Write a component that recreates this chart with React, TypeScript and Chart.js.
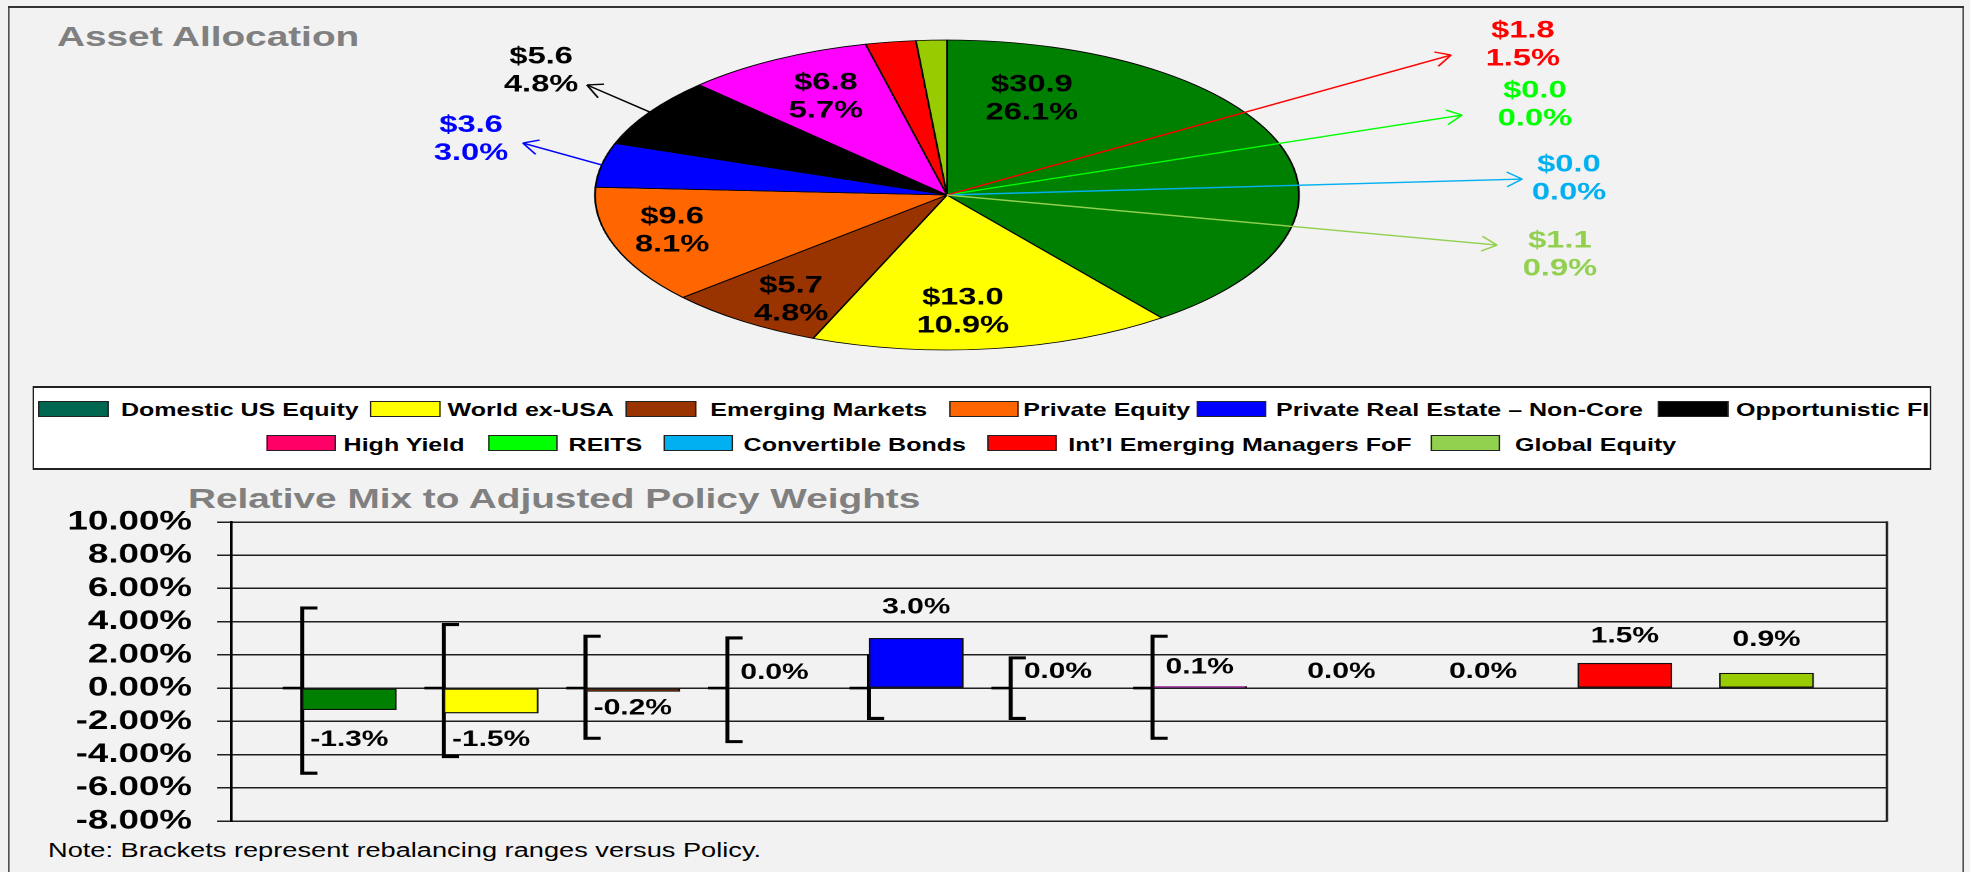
import React, { useEffect, useRef } from "react";
import { Chart, registerables } from "chart.js";

Chart.register(...registerables);

// ---------------- data ----------------
const CATEGORIES = [
  "Domestic US Equity",
  "World ex-USA",
  "Emerging Markets",
  "Private Equity",
  "Private Real Estate – Non-Core",
  "Opportunistic FI",
  "High Yield",
  "REITS",
  "Convertible Bonds",
  "Int’l Emerging Managers FoF",
  "Global Equity",
];
const ALLOC_DOLLARS = [30.9, 13.0, 5.7, 9.6, 3.6, 5.6, 6.8, 0.0, 0.0, 1.8, 1.1];
const ALLOC_PCT = [26.1, 10.9, 4.8, 8.1, 3.0, 4.8, 5.7, 0.0, 0.0, 1.5, 0.9];
const RELATIVE_MIX = [-1.3, -1.5, -0.2, 0.0, 3.0, 0.0, 0.1, 0.0, 0.0, 1.5, 0.9];
const RANGE_HIGH: (number | null)[] = [4.9, 3.9, 3.2, 3.1, 2.0, 1.9, 3.2, null, null, null, null];
const RANGE_LOW: (number | null)[] = [-5.2, -4.2, -3.1, -3.3, -1.9, -1.9, -3.1, null, null, null, null];
const POLICY: (number | null)[] = [0, 0, 0, 0, 0, 0, 0, null, null, null, null];
const Y_MIN = -8;
const Y_MAX = 10;
const Y_STEP = 2;

// ---------------- styles / layout ----------------
const K = 1.36; // horizontal stretch of the whole picture
const U = (x: number) => x / K;
const W_U = 1449;
const FONT = '"Liberation Sans", Arial, Helvetica, sans-serif';
Chart.defaults.font.family = FONT;

const PIE_COLORS = ["#008000", "#FFFF00", "#993300", "#FF6600", "#0000FF", "#000000", "#FF00FF", "#00FF00", "#00B0F0", "#FF0000", "#99CC00"];
const LEGEND_COLORS = ["#006650", "#FFFF00", "#993300", "#FF6600", "#0000FF", "#000000", "#FF0066", "#00FF00", "#00B0F0", "#FF0000", "#92D050"];
const BAR_COLORS = ["#008000", "#FFFF00", "#993300", "#FF6600", "#0000FF", "#000000", "#FF00FF", "#00FF00", "#00B0F0", "#FF0000", "#99CC00"];
const PIE_LABEL_COLORS = ["#000", "#000", "#000", "#000", "#0000FF", "#000", "#000", "#00FF00", "#00B0F0", "#FF0000", "#92D050"];

// label anchor positions, in units of the ellipse semi-axes from the pie centre
const PIE_LABEL_AT: [number, number][] = [
  [0.241, -0.619], [0.045, 0.755], [-0.443, 0.677], [-0.781, 0.232], [-1.352, -0.358],
  [-1.153, -0.8], [-0.344, -0.632], [1.67, -0.581], [1.767, -0.103], [1.636, -0.968], [1.741, 0.387],
];
type Arrow = { from: "rim" | "center"; tip: [number, number] } | null;
const PIE_ARROWS: Arrow[] = [
  null, null, null, null,
  { from: "rim", tip: [-1.205, -0.335] },
  { from: "rim", tip: [-1.023, -0.71] },
  null,
  { from: "center", tip: [1.463, -0.516] },
  { from: "center", tip: [1.634, -0.103] },
  { from: "center", tip: [1.432, -0.903] },
  { from: "center", tip: [1.5625, 0.323] },
];
const PIE_RADIUS = 155;
const PIE_STRETCH = U(352) / PIE_RADIUS;
const PIE_H = 390;
const PIE_PAD_RIGHT = W_U - 2 * U(947);

// bar chart layout
const BAR_CANVAS_TOP = 470;
const BAR_CANVAS_W = 1397;
const BAR_CANVAS_H = 391;
const PLOT_TOP = 522;
const PLOT_BOTTOM = 821;
const X_MAX = 1665 / 142.5;
const BAR_SHIFT = 0.835;
const BRACKET_SHIFT = 0.55;
const POLICY_SHIFT = 0.432;
const BAR_LABEL_DY = [30, 27, 17, -15, -31, -16, -19, -16, -16, -27, -33];

// legend layout: [swatch x, text x, row] in picture pixels
const LEGEND_LAYOUT: [number, number, number][] = [
  [39.3, 121.7, 0], [371, 448.3, 0], [626.7, 711, 0], [950, 1024, 0], [1197, 1276.7, 0], [1659, 1736.7, 0],
  [266.7, 344.3, 1], [488.3, 569.3, 1], [664.3, 744.3, 1], [987.7, 1069, 1], [1431, 1515.7, 1],
];

function drawArrow(ctx: CanvasRenderingContext2D, sx: number, sy: number, tx: number, ty: number, color: string) {
  ctx.strokeStyle = color;
  ctx.lineWidth = 1.4;
  ctx.beginPath();
  ctx.moveTo(sx, sy);
  ctx.lineTo(tx, ty);
  ctx.stroke();
  const dx = (sx - tx) * K;
  const dy = sy - ty;
  const len = Math.hypot(dx, dy) || 1;
  const ux = dx / len;
  const uy = dy / len;
  const L = 17;
  const ang = 0.45;
  for (const s of [1, -1]) {
    const rx = ux * Math.cos(s * ang) - uy * Math.sin(s * ang);
    const ry = ux * Math.sin(s * ang) + uy * Math.cos(s * ang);
    ctx.beginPath();
    ctx.moveTo(tx, ty);
    ctx.lineTo(tx + (rx * L) / K, ty + ry * L);
    ctx.stroke();
  }
}

const ellipsePlugin = {
  id: "ellipse",
  beforeDatasetsDraw(chart: any) {
    const el = chart.getDatasetMeta(0).data[0];
    const ctx = chart.ctx;
    ctx.save();
    ctx.translate(el.x, el.y);
    ctx.scale(PIE_STRETCH, 1);
    ctx.translate(-el.x, -el.y);
  },
  afterDatasetsDraw(chart: any) {
    chart.ctx.restore();
  },
};

const pieLabelPlugin = {
  id: "pieLabels",
  afterDraw(chart: any) {
    const ctx: CanvasRenderingContext2D = chart.ctx;
    const arcs = chart.getDatasetMeta(0).data;
    const c = arcs[0];
    const cx = c.x;
    const cy = c.y;
    const b = c.outerRadius;
    const a = b * PIE_STRETCH;
    ctx.save();
    arcs.forEach((arc: any, i: number) => {
      const color = PIE_LABEL_COLORS[i];
      const arrow = PIE_ARROWS[i];
      if (arrow) {
        let sx = cx;
        let sy = cy;
        if (arrow.from === "rim") {
          const m = (arc.startAngle + arc.endAngle) / 2;
          sx = cx + a * Math.cos(m);
          sy = cy + b * Math.sin(m);
        }
        drawArrow(ctx, sx, sy, cx + arrow.tip[0] * a, cy + arrow.tip[1] * b, color);
      }
      const lx = cx + PIE_LABEL_AT[i][0] * a;
      const ly = cy + PIE_LABEL_AT[i][1] * b;
      ctx.fillStyle = color;
      ctx.font = `bold 24px ${FONT}`;
      ctx.textAlign = "center";
      ctx.textBaseline = "middle";
      ctx.fillText("$" + ALLOC_DOLLARS[i].toFixed(1), lx, ly - 14);
      ctx.fillText(ALLOC_PCT[i].toFixed(1) + "%", lx, ly + 14);
    });
    ctx.restore();
  },
};

const frameRightPlugin = {
  id: "frameRight",
  beforeDatasetsDraw(chart: any) {
    const { right, top, bottom } = chart.chartArea;
    const ctx = chart.ctx;
    ctx.save();
    ctx.strokeStyle = "#1f1f1f";
    ctx.lineWidth = 1.8;
    ctx.beginPath();
    ctx.moveTo(right, top - 0.75);
    ctx.lineTo(right, bottom + 0.75);
    ctx.stroke();
    ctx.restore();
  },
};

const barLabelPlugin = {
  id: "barLabels",
  afterDatasetsDraw(chart: any) {
    const ctx: CanvasRenderingContext2D = chart.ctx;
    const meta = chart.getDatasetMeta(0);
    ctx.save();
    ctx.fillStyle = "#000";
    ctx.font = `bold 22px ${FONT}`;
    ctx.textAlign = "center";
    ctx.textBaseline = "middle";
    meta.data.forEach((el: any, i: number) => {
      ctx.fillText(RELATIVE_MIX[i].toFixed(1) + "%", el.x, el.y + BAR_LABEL_DY[i]);
    });
    ctx.restore();
  },
};

export default function App() {
  const pieRef = useRef<HTMLCanvasElement>(null);
  const barRef = useRef<HTMLCanvasElement>(null);

  useEffect(() => {
    const pie = new Chart(pieRef.current as HTMLCanvasElement, {
      type: "pie",
      data: {
        labels: CATEGORIES,
        datasets: [
          {
            data: ALLOC_DOLLARS,
            backgroundColor: PIE_COLORS,
            borderColor: "#000",
            borderWidth: 0.8,
            radius: PIE_RADIUS,
            clip: false,
          } as any,
        ],
      },
      options: {
        animation: false,
        responsive: false,
        devicePixelRatio: 2,
        events: [],
        layout: { padding: { left: 0, right: PIE_PAD_RIGHT, top: 0, bottom: 0 } },
        plugins: { legend: { display: false }, tooltip: { enabled: false } },
      },
      plugins: [ellipsePlugin, pieLabelPlugin],
    });

    const barData = RELATIVE_MIX.map((v, i) => ({ x: i + BAR_SHIFT, y: v }));
    const bracketData = RANGE_HIGH.map((h, i) =>
      h == null || RANGE_LOW[i] == null ? null : { x: i + BRACKET_SHIFT, y: [RANGE_LOW[i], h] }
    ).filter(Boolean);
    const policyData = POLICY.map((p, i) => (p == null ? null : { x: i + POLICY_SHIFT, y: p })).filter(Boolean);

    const bar = new Chart(barRef.current as HTMLCanvasElement, {
      type: "bar",
      data: {
        datasets: [
          {
            type: "bar",
            data: barData,
            backgroundColor: BAR_COLORS,
            borderColor: "#111",
            borderWidth: 1.2,
            borderSkipped: false,
            barThickness: U(94),
            grouped: false,
          } as any,
          {
            type: "bar",
            data: bracketData,
            backgroundColor: "rgba(0,0,0,0)",
            borderColor: "#000",
            borderWidth: { top: 2.5, right: 0, bottom: 2.5, left: 2.4 },
            borderSkipped: false,
            barThickness: U(17),
            grouped: false,
          } as any,
          {
            type: "scatter",
            data: policyData,
            showLine: false,
            pointStyle: "line",
            pointRadius: U(19) / 2,
            pointBorderWidth: 2.6,
            pointBorderColor: "#000",
            borderColor: "#000",
          } as any,
        ],
      },
      options: {
        animation: false,
        responsive: false,
        devicePixelRatio: 2,
        events: [],
        layout: {
          padding: {
            left: 0,
            right: BAR_CANVAS_W - U(1896),
            top: PLOT_TOP - BAR_CANVAS_TOP,
            bottom: BAR_CANVAS_TOP + BAR_CANVAS_H - PLOT_BOTTOM,
          },
        },
        plugins: { legend: { display: false }, tooltip: { enabled: false } },
        scales: {
          x: { type: "linear", min: 0, max: X_MAX, offset: false, display: false },
          y: {
            min: Y_MIN,
            max: Y_MAX,
            afterFit(scale: any) {
              scale.width = U(231);
            },
            ticks: {
              stepSize: Y_STEP,
              autoSkip: false,
              padding: U(25),
              color: "#000",
              font: { family: FONT, size: 27, weight: "bold", lineHeight: 1 },
              callback: (v: any) => Number(v).toFixed(2) + "%",
            },
            grid: { color: "#1f1f1f", lineWidth: 1.5, tickLength: U(14), tickColor: "#1f1f1f", drawTicks: true },
            border: { display: true, color: "#000", width: 2 },
          },
        } as any,
      },
      plugins: [frameRightPlugin, barLabelPlugin],
    });

    return () => {
      pie.destroy();
      bar.destroy();
    };
  }, []);

  const abs = (left: number, top: number, extra: React.CSSProperties = {}): React.CSSProperties => ({
    position: "absolute",
    left,
    top,
    ...extra,
  });

  const legendLeft = U(33);
  const legendTop = 386;
  const bl = 1.5;
  const bt = 2;

  return (
    <div
      style={{
        position: "fixed",
        left: 0,
        top: 0,
        width: 1970 / K,
        height: 872,
        overflow: "hidden",
        background: "#F2F2F2",
        transform: `scaleX(${K})`,
        transformOrigin: "0 0",
        fontFamily: FONT,
      }}
    >
      {/* frame */}
      <div
        style={abs(U(8.3), 6, {
          width: U(1963.3 - 8.3),
          height: 1000,
          boxSizing: "border-box",
          borderTop: "2px solid #333",
          borderLeft: "1.4px solid #333",
          borderRight: "1.4px solid #333",
          background: "#F2F2F2",
        })}
      />
      {/* titles */}
      <div style={abs(U(57), 22, { font: `bold 28.5px ${FONT}`, lineHeight: 1, color: "#808080", whiteSpace: "nowrap" })}>
        Asset Allocation
      </div>
      <div style={abs(U(188), 484, { font: `bold 28.5px ${FONT}`, lineHeight: 1, color: "#808080", whiteSpace: "nowrap" })}>
        Relative Mix to Adjusted Policy Weights
      </div>
      {/* legend */}
      <div
        style={abs(legendLeft, legendTop, {
          width: U(1931 - 33),
          height: 84,
          boxSizing: "border-box",
          borderTop: `${bt}px solid #222`,
          borderBottom: `${bt}px solid #222`,
          borderLeft: `${bl}px solid #222`,
          borderRight: `${bl}px solid #222`,
          background: "#FFFFFF",
          overflow: "hidden",
        })}
      >
        {CATEGORIES.map((name, i) => {
          const [sx, tx, row] = LEGEND_LAYOUT[i];
          const swTop = (row === 0 ? 400.7 : 435.3) - legendTop - bt;
          const txTop = (row === 0 ? 400.5 : 435.5) - legendTop - bt;
          return (
            <React.Fragment key={name}>
              <div
                style={abs(U(sx) - legendLeft - bl, swTop, {
                  width: U(70),
                  height: 16,
                  boxSizing: "border-box",
                  border: "1px solid #222",
                  background: LEGEND_COLORS[i],
                })}
              />
              <div
                style={abs(U(tx) - legendLeft - bl, txTop, {
                  font: `bold 18.4px ${FONT}`,
                  lineHeight: 1,
                  color: "#000",
                  whiteSpace: "nowrap",
                })}
              >
                {name}
              </div>
            </React.Fragment>
          );
        })}
      </div>
      {/* note */}
      <div style={abs(U(48), 840, { font: `20px ${FONT}`, lineHeight: 1, color: "#000", whiteSpace: "nowrap" })}>
        Note: Brackets represent rebalancing ranges versus Policy.
      </div>
      {/* pie chart */}
      <canvas ref={pieRef} width={W_U} height={PIE_H} style={abs(0, 0)} />
      {/* bar chart */}
      <canvas ref={barRef} width={BAR_CANVAS_W} height={BAR_CANVAS_H} style={abs(0, BAR_CANVAS_TOP)} />
    </div>
  );
}
